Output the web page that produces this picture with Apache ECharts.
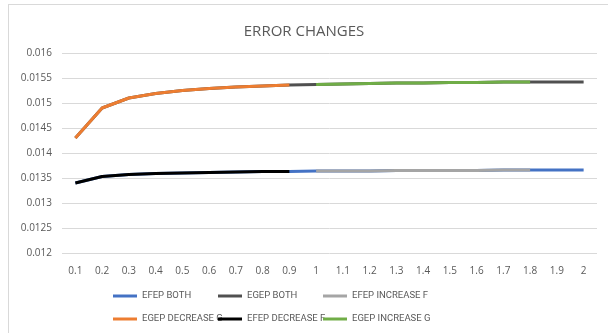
<!DOCTYPE html>
<html>
<head>
<meta charset="utf-8">
<script src="https://cdn.jsdelivr.net/npm/echarts@6/dist/echarts.min.js"></script>
<style>
  html, body { margin: 0; padding: 0; background: #fff; }
  #wrap { position: relative; width: 608px; height: 333px; }
  #frame {
    position: absolute; left: 8px; top: 4px; right: 0; bottom: 0;
    border-top: 1px solid #d9d9d9; border-left: 1px solid #d9d9d9;
  }
  #chart { position: absolute; left: 0; top: 0; width: 608px; height: 333px; }
</style>
</head>
<body>
<div id="wrap">
  <div id="frame"></div>
  <div id="chart"></div>
</div>
<script>
const categories = ["0.1", "0.2", "0.3", "0.4", "0.5", "0.6", "0.7", "0.8", "0.9", "1",
  "1.1", "1.2", "1.3", "1.4", "1.5", "1.6", "1.7", "1.8", "1.9", "2"];

// lower line (EFEP), blue underneath, others drawn over it
const efepBoth = [0.01340, 0.01353, 0.01357, 0.01359, 0.01360, 0.01361, 0.01362, 0.01363, 0.01363, 0.01364,
  0.01364, 0.01364, 0.01365, 0.01365, 0.01365, 0.01365, 0.01366, 0.01366, 0.01366, 0.01366];
// upper line (EGEP)
const egepBoth = [0.01430, 0.01490, 0.01510, 0.01519, 0.01525, 0.01529, 0.01532, 0.01534, 0.01536, 0.01537,
  0.01538, 0.01539, 0.01540, 0.01540, 0.01541, 0.01541, 0.01542, 0.01542, 0.01542, 0.01542];

const efepIncreaseF = [null, null, null, null, null, null, null, null, null, 0.01364,
  0.01364, 0.01364, 0.01365, 0.01365, 0.01365, 0.01365, 0.01366, 0.01366, null, null];
const egepDecreaseG = [0.01430, 0.01490, 0.01510, 0.01519, 0.01525, 0.01529, 0.01532, 0.01534, 0.01536, null,
  null, null, null, null, null, null, null, null, null, null];
const efepDecreaseF = [0.01340, 0.01353, 0.01357, 0.01359, 0.01360, 0.01361, 0.01362, 0.01363, 0.01363, null,
  null, null, null, null, null, null, null, null, null, null];
const egepIncreaseG = [null, null, null, null, null, null, null, null, null, 0.01537,
  0.01538, 0.01539, 0.01540, 0.01540, 0.01541, 0.01541, 0.01542, 0.01542, null, null];

const yTicks = ["0.012", "0.0125", "0.013", "0.0135", "0.014", "0.0145", "0.015", "0.0155", "0.016"];

const legendNames = ["EFEP BOTH", "EGEP BOTH", "EFEP INCREASE F", "EGEP DECREASE G", "EFEP DECREASE F", "EGEP INCREASE G"];

const font = "'Open Sans', 'Liberation Sans', sans-serif";

function line(name, data, color) {
  return {
    name: name,
    type: "line",
    data: data,
    symbol: "none",
    showSymbol: false,
    lineStyle: { color: color, width: 3 },
    itemStyle: { color: color },
    animation: false,
  };
}

// one legend per item so they sit on a fixed 3-column grid like the original
const legends = legendNames.map(function (n, i) {
  return {
    data: [n],
    left: 113 + (i % 3) * 105,
    top: 291 + Math.floor(i / 3) * 23,
    itemWidth: 24,
    itemHeight: 3,
    icon: "rect",
    padding: 0,
    textStyle: { color: "#595959", fontSize: 9.5, fontFamily: "Roboto, sans-serif" },
  };
});

const chart = echarts.init(document.getElementById("chart"));
chart.setOption({
  backgroundColor: "transparent",
  title: {
    text: "ERROR CHANGES",
    left: "center",
    top: 19,
    textStyle: { color: "#595959", fontSize: 15, fontWeight: "normal", fontFamily: font },
  },
  grid: { left: 62, right: 11, top: 53, bottom: 80 },
  xAxis: {
    type: "category",
    data: categories,
    boundaryGap: true,
    axisLine: { show: false },
    axisTick: { show: false },
    axisLabel: { color: "#595959", fontSize: 10, fontFamily: font, margin: 13 },
  },
  yAxis: {
    type: "value",
    min: 0.012,
    max: 0.016,
    interval: 0.0005,
    axisLine: { show: false },
    axisTick: { show: false },
    splitLine: { lineStyle: { color: "#d9d9d9", width: 1 } },
    axisLabel: {
      color: "#595959", fontSize: 10, fontFamily: font, margin: 10,
      formatter: function (v) {
        const i = Math.round((v - 0.012) / 0.0005);
        return yTicks[i] !== undefined ? yTicks[i] : "";
      },
    },
  },
  legend: legends,
  series: [
    line("EFEP BOTH", efepBoth, "#4472C4"),
    line("EGEP BOTH", egepBoth, "#505050"),
    line("EFEP INCREASE F", efepIncreaseF, "#A5A5A5"),
    line("EGEP DECREASE G", egepDecreaseG, "#ED7D31"),
    line("EFEP DECREASE F", efepDecreaseF, "#000000"),
    line("EGEP INCREASE G", egepIncreaseG, "#70AD47"),
  ],
});
</script>
</body>
</html>
